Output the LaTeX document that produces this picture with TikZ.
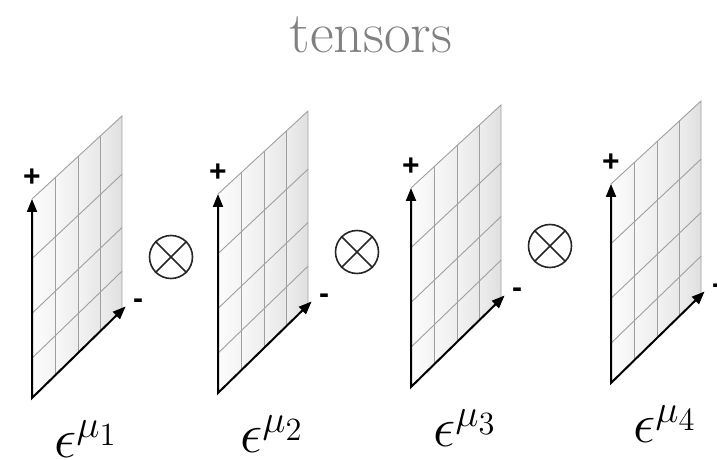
\documentclass[tikz,border=0pt]{standalone}
\usepackage{fontspec}
\newfontfamily\signfont{Liberation Sans}
\usetikzlibrary{calc,arrows.meta}

\tikzset{
  gridline/.style={draw=gray!75, line width=0.9pt},
  axis/.style={line width=2pt, {Triangle[length=13pt,width=10pt]}-{Triangle[length=13pt,width=10pt]}},
  signlabel/.style={font=\signfont\bfseries\fontsize{30}{30}\selectfont, inner sep=0pt},
  otimes/.style={circle, draw=black!85, line width=1.6pt, minimum size=43pt, inner sep=0pt},
}

\begin{document}
\begin{tikzpicture}[x=1pt, y=1pt]
  \useasboundingbox (0,0) rectangle (717,460);
  \node[text=gray, anchor=base, inner sep=0pt, font=\fontsize{58}{60}\selectfont] (title) at (371,407) {tensors};
  % one leaf per index: origin x, origin y
  \foreach \i/\ox/\oy in {1/32/62, 2/218/67, 3/411/73, 4/611/77} {
    \coordinate (O\i) at (\ox,\oy);
    \coordinate (B\i) at (\ox+90,\oy+88);
    \coordinate (T\i) at (\ox,\oy+199);
    \coordinate (U\i) at (\ox+90,\oy+282);
    % columns, each with its own shading
    \foreach \a/\b/\l/\r in {0/0.26/2/9, 0.26/0.52/6/14, 0.52/0.76/10/19, 0.76/1/14/25}
      \shade[left color=gray!\l, right color=gray!\r] ($(O\i)!\a!(B\i)$) -- ($(O\i)!\b!(B\i)$) -- ($(T\i)!\b!(U\i)$) -- ($(T\i)!\a!(U\i)$) -- cycle;
    \foreach \f in {0.26,0.52,0.76}
      \draw[gridline] ($(O\i)!\f!(B\i)$) -- ($(T\i)!\f!(U\i)$);
    \foreach \f in {0.2,0.425,0.7}
      \draw[gridline] ($(O\i)!\f!(T\i)$) -- ($(B\i)!\f!(U\i)$);
    \draw[gridline] (T\i) -- (U\i) -- (B\i);
    \draw[axis] (T\i) -- (O\i) -- ($(O\i)!1.04!(B\i)$);
    \node[signlabel] (plus\i) at ($(T\i)+(0,21)$) {+};
    \node[signlabel] (minus\i) at ($(B\i)+(16,6)$) {-};
    \node[anchor=base west, inner sep=0pt, font=\huge, scale=2.7] (eps\i) at ($(O\i)+(22,-60)$) {$\epsilon^{\mu_\i}$};
    \ifnum\i<4
      \node[otimes] (ot\i) at ($(O\i)+(139,141)$) {};
      \draw[black!85, line width=1.6pt] (ot\i.45) -- (ot\i.225) (ot\i.135) -- (ot\i.315);
    \fi
  }
\end{tikzpicture}
\end{document}
